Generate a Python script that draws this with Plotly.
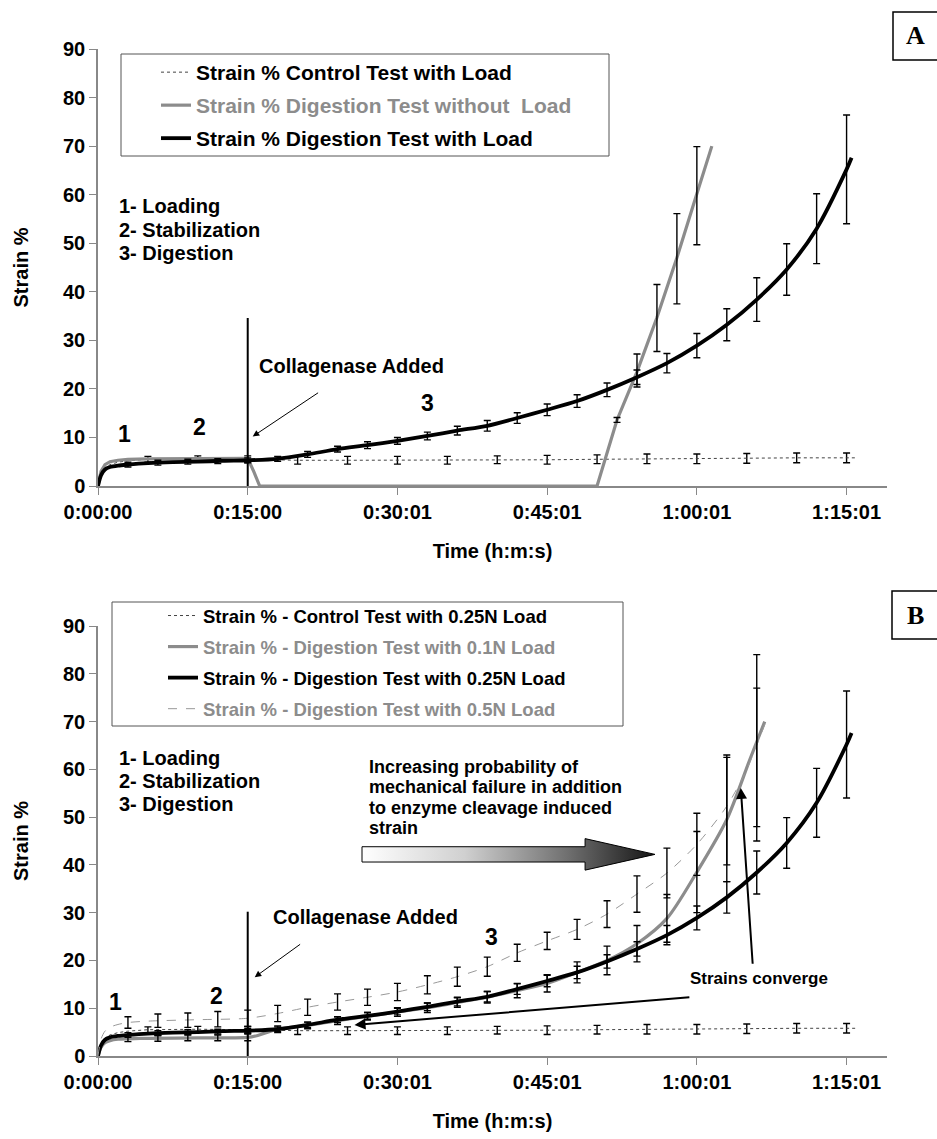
import plotly.graph_objects as go

# ---------------- DATA (time in minutes, strain in %) ----------------
tick_vals = [0, 15, 30, 45, 60, 75]
tick_text = ["0:00:00", "0:15:00", "0:30:01", "0:45:01", "1:00:01", "1:15:01"]

# Control test with load (same in both panels)
ctrl_t = [0, 0.3, 0.7, 1.2, 2, 3, 5, 10, 15, 20, 25, 30, 35, 40, 45, 50, 55, 60, 65, 70, 75, 76]
ctrl_v = [0, 2.5, 3.7, 4.4, 4.9, 5.2, 5.5, 5.6, 5.5, 5.3, 5.3, 5.3, 5.3, 5.4, 5.4, 5.5, 5.6, 5.6, 5.7, 5.8, 5.8, 5.8]
ctrl_eb_t = [5, 10, 15, 20, 25, 30, 35, 40, 45, 50, 55, 60, 65, 70, 75]
ctrl_eb_v = [5.5, 5.6, 5.5, 5.3, 5.3, 5.3, 5.3, 5.4, 5.4, 5.5, 5.6, 5.6, 5.7, 5.8, 5.8]
ctrl_eb_e = [0.6, 0.6, 0.7, 0.8, 0.8, 0.8, 0.8, 0.8, 0.9, 0.9, 1.0, 1.0, 1.0, 1.0, 1.0]

# Digestion test with load (0.25N)
dig_t = [0, 0.3, 0.7, 1.2, 2, 3, 5, 7.5, 10, 12.5, 15, 18, 21, 24, 27, 30, 33, 36, 39, 42,
         45, 48, 51, 54, 57, 60, 63, 66, 69, 72, 75, 75.5]
dig_v = [0, 2.2, 3.4, 3.9, 4.2, 4.4, 4.7, 4.9, 5.0, 5.2, 5.3, 5.6, 6.5, 7.6, 8.4, 9.3, 10.3, 11.4, 12.4, 14.0,
         15.7, 17.5, 19.8, 22.4, 25.3, 28.9, 33.2, 38.4, 44.6, 53.0, 65.2, 67.6]
dig_eb_t = [3, 6, 9, 12, 15, 18, 21, 24, 27, 30, 33, 36, 39, 42, 45, 48, 51, 54, 57, 60, 63, 66, 69, 72, 75]
dig_eb_v = [4.4, 4.8, 5.0, 5.1, 5.3, 5.6, 6.5, 7.6, 8.4, 9.3, 10.3, 11.4, 12.4, 14.0, 15.7, 17.5, 19.8,
            22.4, 25.3, 28.9, 33.2, 38.4, 44.6, 53.0, 65.2]
dig_eb_e = [0.5, 0.5, 0.5, 0.5, 0.5, 0.5, 0.6, 0.6, 0.7, 0.7, 0.8, 0.9, 1.1, 1.1, 1.2, 1.3, 1.4,
            1.5, 2.0, 2.5, 3.3, 4.5, 5.3, 7.2, 11.2]

# Panel A: digestion test without load
noload_t = [0, 0.3, 0.7, 1.2, 2, 3, 5, 10, 15, 15.6, 16.2, 20, 30, 40, 50, 52, 54, 56, 58, 60, 61.5]
noload_v = [0, 3.0, 4.4, 5.0, 5.3, 5.5, 5.6, 5.7, 5.7, 3.0, 0, 0, 0, 0, 0, 13.6, 23.5, 34.7, 47.0, 60.2, 70.0]
noload_eb_t = [52, 54, 56, 58, 60]
noload_eb_v = [13.6, 23.8, 34.6, 46.8, 59.8]
noload_eb_e = [0.5, 3.4, 6.9, 9.3, 10.1]

# Panel B: digestion test with 0.1N load
d01_t = [0, 0.3, 0.7, 1.2, 2, 3, 5, 10, 15, 16, 17, 18, 21, 24, 27, 30, 33, 36, 39, 42, 45, 48,
         51, 54, 57, 60, 63, 65.3, 66.8]
d01_v = [0, 1.8, 2.8, 3.2, 3.5, 3.6, 3.7, 3.8, 3.9, 4.3, 5.0, 5.6, 6.4, 7.4, 8.3, 9.2, 10.1, 11.2,
         12.3, 13.7, 15.2, 17.5, 20.0, 23.5, 28.8, 38.5, 49.5, 62.0, 70.0]
d01_eb_t = [3, 6, 9, 12, 15, 18, 21, 24, 27, 30, 33, 36, 39, 42, 45, 48, 51, 54, 57, 60, 63, 66]
d01_eb_v = [3.6, 3.7, 3.8, 3.8, 3.9, 5.6, 6.4, 7.4, 8.3, 9.2, 10.1, 11.2, 12.3, 13.7, 15.2, 17.5,
            20.0, 23.5, 28.8, 38.5, 49.5, 66.0]
d01_eb_e = [0.6, 0.6, 0.6, 0.6, 0.7, 0.7, 0.7, 0.8, 0.8, 0.9, 1.0, 1.0, 1.2, 1.5, 1.8, 2.2, 3.0,
            3.8, 5.0, 8.5, 13.0, 18.0]

# Panel B: digestion test with 0.5N load
d05_t = [0, 0.3, 0.7, 1.3, 2, 3, 5, 10, 15, 18, 21, 24, 27, 30, 33, 36, 39, 42, 45, 48, 51, 54,
         57, 60, 63, 65, 67]
d05_v = [0, 3.5, 5.2, 6.1, 6.6, 7.0, 7.3, 7.6, 7.9, 8.9, 10.2, 11.3, 12.3, 13.4, 14.9, 16.6, 18.7,
         21.6, 24.1, 26.5, 29.7, 33.9, 38.3, 44.3, 52.3, 60.0, 70.5]
d05_eb_t = [3, 6, 9, 12, 15, 18, 21, 24, 27, 30, 33, 36, 39, 42, 45, 48, 51, 54, 57, 60, 63, 66]
d05_eb_v = [7.0, 7.4, 7.5, 7.7, 7.9, 8.9, 10.2, 11.3, 12.3, 13.4, 14.9, 16.6, 18.7, 21.6, 24.1,
            26.5, 29.7, 33.9, 38.3, 44.3, 51.5, 61.0]
d05_eb_e = [1.2, 1.4, 1.5, 1.6, 1.7, 1.7, 1.7, 1.7, 1.7, 1.8, 1.9, 2.0, 2.0, 1.8, 1.8, 2.1, 2.8,
            3.8, 5.2, 6.5, 11.5, 16.0]

# ---------------- STYLE ----------------
FONT = "Liberation Sans, Arial, sans-serif"
GRAY = "#8c8c8c"
W, H = 937, 1139

fig = go.Figure()


def line(xs, ys, name, color, width, dash, xa, ya, legend, group, shape="linear"):
    fig.add_trace(go.Scatter(x=xs, y=ys, name=name, mode="lines",
                             line=dict(color=color, width=width, dash=dash, shape=shape,
                                       smoothing=0.8 if shape == "spline" else None),
                             xaxis=xa, yaxis=ya, legend=legend, legendgroup=group,
                             showlegend=True, hoverinfo="skip"))


def ebars(xs, ys, es, xa, ya, thick=1.4):
    fig.add_trace(go.Scatter(x=xs, y=ys, mode="markers",
                             marker=dict(size=1, color="rgba(0,0,0,0)"),
                             error_y=dict(type="data", array=es, color="black",
                                          thickness=thick, width=3.5),
                             xaxis=xa, yaxis=ya, showlegend=False, hoverinfo="skip"))


# ---- Panel A ----
ebars(ctrl_eb_t, ctrl_eb_v, ctrl_eb_e, "x", "y")
line(ctrl_t, ctrl_v, "Strain % Control Test with Load", "#444", 1, "dot", "x", "y", "legend", "a1")
line(noload_t, noload_v, f"<span style='color:{GRAY}'>Strain % Digestion Test without  Load</span>",
     GRAY, 3.2, "solid", "x", "y", "legend", "a2")
line(dig_t, dig_v, "Strain % Digestion Test with Load", "black", 3.8, "solid", "x", "y", "legend", "a3",
     shape="spline")
ebars(noload_eb_t, noload_eb_v, noload_eb_e, "x", "y")
ebars(dig_eb_t, dig_eb_v, dig_eb_e, "x", "y")

# ---- Panel B ----
# gradient arrow (decoration)
arr_x = [26.45, 48.8, 48.8, 55.8, 48.8, 48.8, 26.45, 26.45]
arr_y = [43.8, 43.8, 45.5, 42.2, 38.9, 40.6, 40.6, 43.8]
fig.add_trace(go.Scatter(x=arr_x, y=arr_y, mode="lines", fill="toself",
                         fillgradient=dict(type="horizontal",
                                           colorscale=[[0, "#ffffff"], [0.35, "#d0d0d0"],
                                                       [0.7, "#707070"], [1, "#151515"]]),
                         line=dict(color="black", width=1), xaxis="x2", yaxis="y2",
                         showlegend=False, hoverinfo="skip"))
ebars(ctrl_eb_t, ctrl_eb_v, ctrl_eb_e, "x2", "y2")
line(ctrl_t, ctrl_v, "Strain % - Control Test with 0.25N Load", "#444", 1, "dot", "x2", "y2", "legend2", "b1")
line(d01_t, d01_v, f"<span style='color:{GRAY}'>Strain % - Digestion Test with 0.1N Load</span>",
     GRAY, 3.2, "solid", "x2", "y2", "legend2", "b2", shape="spline")
line(dig_t, dig_v, "Strain % - Digestion Test with 0.25N Load", "black", 3.8, "solid", "x2", "y2", "legend2", "b3",
     shape="spline")
line(d05_t, d05_v, f"<span style='color:{GRAY}'>Strain % - Digestion Test with 0.5N Load</span>",
     "#999", 1, "dash", "x2", "y2", "legend2", "b4", shape="spline")
ebars(d05_eb_t, d05_eb_v, d05_eb_e, "x2", "y2")
ebars(d01_eb_t, d01_eb_v, d01_eb_e, "x2", "y2")
ebars(dig_eb_t, dig_eb_v, dig_eb_e, "x2", "y2")

# ---------------- AXES ----------------
x_dom = [98 / W, 887 / W]
yA_dom = [1 - 486 / H, 1 - 49 / H]
yB_dom = [1 - 1056 / H, 1 - 626 / H]
tickfont = dict(family=FONT, size=20, color="black", weight="bold")
titlefont = dict(family=FONT, size=20, color="black", weight="bold")
axcommon = dict(showline=True, linecolor="#888", linewidth=1.5, ticks="outside", ticklen=7,
                tickcolor="#888", tickwidth=1.2, showgrid=False, zeroline=False, tickfont=tickfont,
                automargin=False)

for xa, ya, ydom in (("xaxis", "yaxis", yA_dom), ("xaxis2", "yaxis2", yB_dom)):
    fig.layout[xa] = dict(domain=x_dom, range=[0, 79.05], tickvals=tick_vals, ticktext=tick_text,
                          anchor="y" if xa == "xaxis" else "y2",
                          title=dict(text="Time (h:m:s)", font=titlefont, standoff=22), **axcommon)
    fig.layout[ya] = dict(domain=ydom, range=[0, 90], dtick=10, tick0=0,
                          anchor="x" if ya == "yaxis" else "x2",
                          title=dict(text="Strain %", font=titlefont, standoff=29), **axcommon)

# ---------------- LEGENDS ----------------
fig.update_layout(
    legend=dict(x=156 / W, y=1 - 52 / H, xanchor="left", yanchor="top", bgcolor="rgba(0,0,0,0)",
                borderwidth=0, font=dict(family=FONT, size=21, color="black", weight="bold"),
                traceorder="grouped", tracegroupgap=2.7, itemwidth=30),
    legend2=dict(x=163 / W, y=1 - 597 / H, xanchor="left", yanchor="top", bgcolor="rgba(0,0,0,0)",
                 borderwidth=0, font=dict(family=FONT, size=18.5, color="black", weight="bold"),
                 traceorder="grouped", tracegroupgap=4, itemwidth=30),
)

shapes = [
    # legend frames
    dict(type="rect", xref="paper", yref="paper", x0=121 / W, x1=609 / W, y0=1 - 156 / H, y1=1 - 54 / H,
         line=dict(color="#555", width=1)),
    dict(type="rect", xref="paper", yref="paper", x0=112 / W, x1=623 / W, y0=1 - 726 / H, y1=1 - 602 / H,
         line=dict(color="#555", width=1)),
    # panel label boxes
    dict(type="rect", xref="paper", yref="paper", x0=893 / W, x1=1.02, y0=1 - 60 / H, y1=1 - 12 / H,
         line=dict(color="black", width=1.5)),
    dict(type="rect", xref="paper", yref="paper", x0=892 / W, x1=1.02, y0=1 - 639 / H, y1=1 - 591 / H,
         line=dict(color="black", width=1.5)),
    # collagenase added vertical lines
    dict(type="line", xref="x", yref="y", x0=15, x1=15, y0=0, y1=34.6, line=dict(color="black", width=2)),
    dict(type="line", xref="x2", yref="y2", x0=15, x1=15, y0=0, y1=30.2, line=dict(color="black", width=2)),
]
fig.update_layout(shapes=shapes)

ann = []


def txt(x, y, s, xa, ya, size=20, anchor="left", family=FONT, color="black"):
    ann.append(dict(x=x, y=y, xref=xa, yref=ya, text=s, showarrow=False, xanchor=anchor, yanchor="middle",
                    font=dict(family=family, size=size, color=color, weight="bold")))


def arrow(x, y, axv, ayv, xa, ya, width, size):
    ann.append(dict(x=x, y=y, ax=axv, ay=ayv, xref=xa, yref=ya, axref=xa, ayref=ya, text="",
                    showarrow=True, arrowhead=2, arrowwidth=width, arrowsize=size, arrowcolor="black"))


# Panel A texts
txt(1.9, 57.7, "1- Loading", "x", "y")
txt(1.9, 52.8, "2- Stabilization", "x", "y")
txt(1.9, 48.0, "3- Digestion", "x", "y")
txt(2.7, 10.7, "1", "x", "y", size=23, anchor="center")
txt(10.2, 12.2, "2", "x", "y", size=23, anchor="center")
txt(33.0, 17.1, "3", "x", "y", size=23, anchor="center")
txt(15.9, 24.7, "Collagenase Added", "x", "y")
arrow(15.5, 10.2, 22.2, 19.4, "x", "y", 1, 1.3)

# Panel B texts
txt(1.9, 62.3, "1- Loading", "x2", "y2")
txt(1.9, 57.5, "2- Stabilization", "x2", "y2")
txt(1.9, 52.7, "3- Digestion", "x2", "y2")
for yv, s in ((60.5, "Increasing probability of"), (56.3, "mechanical failure in addition"),
              (51.9, "to enzyme cleavage induced"), (47.7, "strain")):
    txt(27.0, yv, s, "x2", "y2", size=18)
txt(1.8, 11.3, "1", "x2", "y2", size=23, anchor="center")
txt(11.9, 12.6, "2", "x2", "y2", size=23, anchor="center")
txt(39.4, 24.9, "3", "x2", "y2", size=23, anchor="center")
txt(17.3, 29.1, "Collagenase Added", "x2", "y2")
arrow(15.7, 16.5, 20.4, 23.6, "x2", "y2", 1, 1.3)
txt(59.1, 16.3, "Strains converge", "x2", "y2", size=17)
arrow(25.7, 6.5, 59.4, 12.3, "x2", "y2", 2, 1.1)
arrow(64.4, 56.1, 65.6, 19.0, "x2", "y2", 2, 1.1)

# panel labels
for lab, yc in (("A", 36), ("B", 615)):
    ann.append(dict(x=915 / W, y=1 - yc / H, xref="paper", yref="paper", text=lab, showarrow=False,
                    xanchor="center", yanchor="middle",
                    font=dict(family="Liberation Serif, Times New Roman, serif", size=26,
                              color="black", weight="bold")))

fig.update_layout(annotations=ann, width=W, height=H, margin=dict(l=0, r=0, t=0, b=0),
                  paper_bgcolor="white", plot_bgcolor="white",
                  font=dict(family=FONT, size=20, color="black"))

fig.write_html("out.html", config={"displayModeBar": False},
               post_script="document.body.style.margin='0px';document.body.style.padding='0px';")
